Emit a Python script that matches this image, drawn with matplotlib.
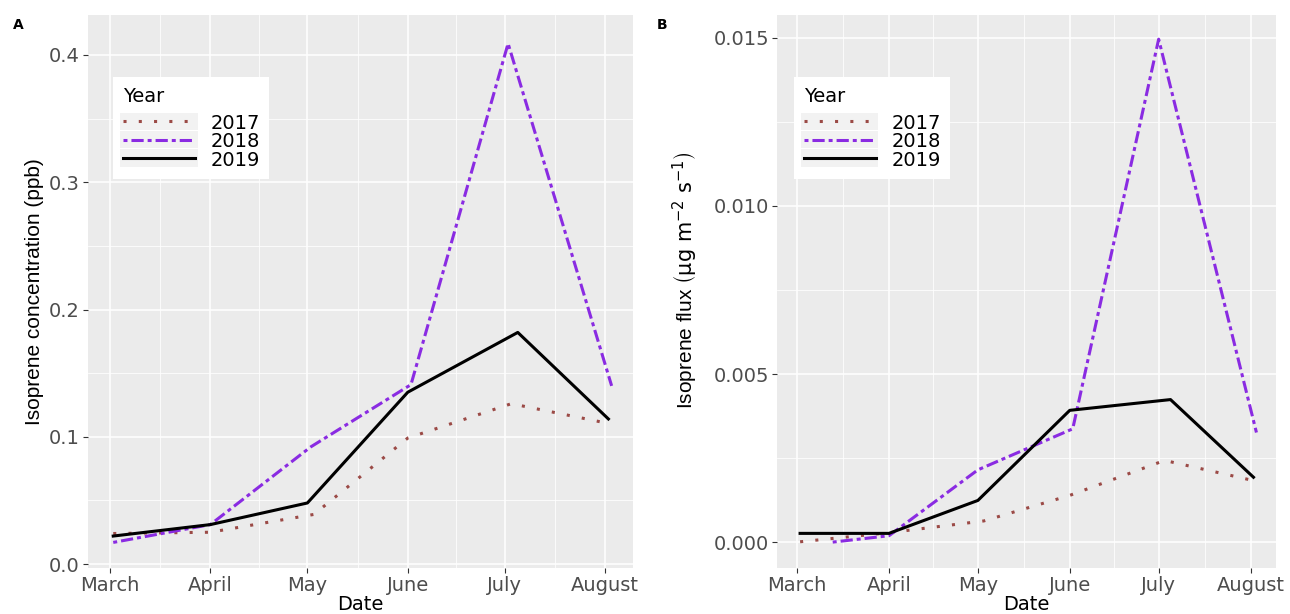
import numpy as np
import pandas as pd
import matplotlib
matplotlib.use('Agg')
import matplotlib.pyplot as plt
import matplotlib.dates as mdates
from matplotlib.lines import Line2D
from matplotlib.patches import Rectangle
from matplotlib.legend_handler import HandlerLine2D
from matplotlib.ticker import FixedLocator, MultipleLocator, FormatStrFormatter

# Данные
months = ['March', 'April', 'May', 'June', 'July', 'August']
years = ['2017', '2018', '2019']

# даты измерений (месяц-день), год на оси не важен
days_2017 = ['03-02', '04-01', '05-03', '06-01', '07-03', '08-01']
days_2018 = ['03-02', '04-01', '05-02', '06-02', '07-02', '08-03']
days_2019 = ['03-02', '04-01', '05-01', '06-01', '07-05', '08-02']
days_2018_flux = ['03-13', '04-01', '05-01', '06-02', '07-01', '08-03']

# панель A: концентрация изопрена, ppb
conc_2017 = [0.024, 0.025, 0.039, 0.099, 0.126, 0.111]
conc_2018 = [0.017, 0.031, 0.092, 0.141, 0.409, 0.140]
conc_2019 = [0.022, 0.031, 0.048, 0.135, 0.182, 0.114]

# панель B: поток изопрена, ug m-2 s-1
flux_2017 = [0.00001, 0.00028, 0.00063, 0.00139, 0.00243, 0.00185]
flux_2018 = [0.0, 0.00019, 0.00215, 0.00337, 0.01496, 0.00326]
flux_2019 = [0.00026, 0.00026, 0.00124, 0.00392, 0.00424, 0.00193]

colors = {'2017': '#9B4A46', '2018': '#8A2BE2', '2019': '#000000'}
dashes = {'2017': (1, 4), '2018': (1.3, 1.3, 4, 1.3), '2019': None}

plt.rcParams['font.family'] = ['DejaVu Sans']


def to_dates(days):
    return pd.to_datetime(['2019-' + d for d in days])


class KeyHandler(HandlerLine2D):
    """Ключ легенды с серым фоном, как в ggplot."""
    def create_artists(self, legend, orig_handle, xdescent, ydescent,
                       width, height, fontsize, trans):
        cy = (height - ydescent) / 2
        bg = Rectangle((-xdescent - 2, cy - 6.3), width + 4, 12.6,
                       facecolor='#F2F2F2', edgecolor='none', transform=trans)
        arts = super().create_artists(legend, orig_handle, xdescent, ydescent,
                                      width, height, fontsize, trans)
        return [bg] + arts


def style_axes(ax, yticks, fmt, yminor, ylim):
    ax.set_facecolor('#EBEBEB')
    for s in ax.spines.values():
        s.set_visible(False)
    month_starts = pd.to_datetime(['2019-%02d-01' % m for m in range(3, 9)])
    major = mdates.date2num(month_starts)
    ax.xaxis.set_major_locator(FixedLocator(major))
    ax.set_xticklabels(months)
    ax.xaxis.set_minor_locator(FixedLocator((major[:-1] + major[1:]) / 2))
    ax.set_xlim(major[0] - 6.8, major[-1] + 8.6)
    ax.set_yticks(yticks)
    ax.yaxis.set_major_formatter(FormatStrFormatter(fmt))
    ax.yaxis.set_minor_locator(MultipleLocator(yminor))
    ax.set_ylim(*ylim)
    ax.grid(which='major', color='white', linewidth=1.1)
    ax.grid(which='minor', color='white', linewidth=0.55)
    ax.set_axisbelow(True)
    ax.tick_params(which='major', length=3.3, width=0.8, color='#333333',
                   labelcolor='#4D4D4D', labelsize=14, pad=2.5)
    ax.tick_params(which='minor', length=0)
    ax.set_xlabel('Date', fontsize=14, color='black', labelpad=0)


fig = plt.figure(figsize=(12.9, 6.14), dpi=100)
axA = fig.add_axes([88 / 1290, 1 - 568 / 614, 545 / 1290, 553 / 614])
axB = fig.add_axes([777 / 1290, 1 - 568 / 614, 499 / 1290, 553 / 614])

panels = [
    (axA, {'2017': days_2017, '2018': days_2018, '2019': days_2019},
     {'2017': conc_2017, '2018': conc_2018, '2019': conc_2019}),
    (axB, {'2017': days_2017, '2018': days_2018_flux, '2019': days_2019},
     {'2017': flux_2017, '2018': flux_2018, '2019': flux_2019}),
]

for ax, days, vals in panels:
    for y in years:
        line, = ax.plot(to_dates(days[y]), vals[y], color=colors[y], linewidth=2.2,
                        label=y, solid_joinstyle='round', dash_capstyle='butt')
        if dashes[y] is not None:
            line.set_dashes(dashes[y])

style_axes(axA, [0, 0.1, 0.2, 0.3, 0.4], '%.1f', 0.05, (-0.0031, 0.4314))
style_axes(axB, [0, 0.005, 0.010, 0.015], '%.3f', 0.0025, (-0.00077, 0.01568))

axA.set_ylabel('Isoprene concentration (ppb)', fontsize=15,
               family='Liberation Sans', labelpad=4)
axB.set_ylabel(r'Isoprene flux $\left(\mathrm{\mu g\ m^{-2}\ s^{-1}}\right)$',
               fontsize=15, family='Liberation Sans', labelpad=4)
axB.yaxis.set_label_coords(-0.155, 0.52)

for ax, x0 in [(axA, 0.046), (axB, 0.034)]:
    leg = ax.legend(title='Year', loc='upper left', bbox_to_anchor=(x0, 0.888),
                    frameon=True, fancybox=False, framealpha=1, edgecolor='none',
                    facecolor='white', fontsize=14, title_fontsize=14,
                    handlelength=3.7, handleheight=0.9, handletextpad=0.8,
                    labelspacing=-0.03, borderpad=0.5, borderaxespad=0,
                    alignment='left', handler_map={Line2D: KeyHandler()})
    leg._legend_box.sep = 5.8  # отступ между заголовком и ключами

fig.text(18 / 1290, 1 - 25 / 614, 'A', fontsize=10, fontweight='bold',
         ha='center', va='center')
fig.text(662 / 1290, 1 - 25 / 614, 'B', fontsize=10, fontweight='bold',
         ha='center', va='center')

fig.savefig('out.png', dpi=100, facecolor='white')
